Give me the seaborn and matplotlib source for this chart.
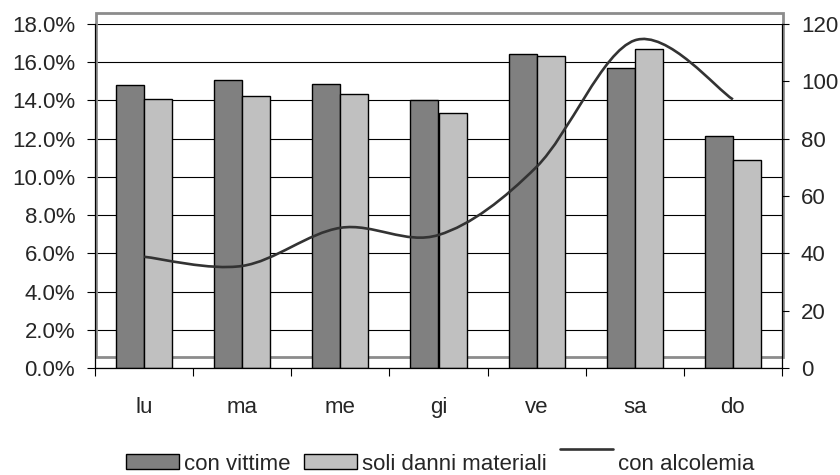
import numpy as np
import pandas as pd
import seaborn as sns
import matplotlib
matplotlib.use("Agg")
import matplotlib.pyplot as plt
from matplotlib.patches import Rectangle, Patch, PathPatch
from matplotlib.lines import Line2D
from matplotlib.path import Path
from matplotlib.ticker import PercentFormatter, FixedLocator
from matplotlib.legend_handler import HandlerLine2D

# Weekday share of road accidents
giorni = ["lu", "ma", "me", "gi", "ve", "sa", "do"]
con_vittime = [14.81, 15.05, 14.84, 14.04, 16.41, 15.71, 12.12]
soli_danni = [14.06, 14.23, 14.32, 13.32, 16.31, 16.68, 10.87]
con_alcolemia = [38.8, 35.6, 48.9, 46.4, 70.2, 114.3, 93.7]

serie_barre = ["con vittime", "soli danni materiali"]
serie_linea = "con alcolemia"

FS = 16

sns.set_style("white")
plt.rcParams["font.family"] = ["Liberation Sans", "DejaVu Sans"]
plt.rcParams["font.size"] = FS

df = pd.DataFrame({
    "giorno": giorni * 2,
    "quota": con_vittime + soli_danni,
    "serie": [serie_barre[0]] * 7 + [serie_barre[1]] * 7,
})

W, H = 840, 475
fig = plt.figure(figsize=(W / 100, H / 100), dpi=100)
ax = fig.add_axes([95 / W, 1 - 368 / H, (782 - 95) / W, (368 - 24) / H])

sns.barplot(data=df, x="giorno", y="quota", hue="serie", order=giorni,
            palette=["#808080", "#C0C0C0"], width=0.572, gap=0,
            edgecolor="black", linewidth=1.0, legend=False, ax=ax)

ax.set_xlim(-0.5, 6.5)
ax.set_ylim(0, 18)
ax.set_xlabel("")
ax.set_ylabel("")

# horizontal grid every 2 %
ax.set_yticks(np.arange(0, 18.1, 2))
ax.yaxis.set_major_formatter(PercentFormatter(xmax=100, decimals=1))
ax.set_axisbelow(True)
ax.grid(axis="y", color="black", linewidth=0.8)
ax.grid(axis="x", visible=False)

# category separators as ticks, labels centred on groups
ax.xaxis.set_major_locator(FixedLocator(np.arange(-0.5, 7, 1)))
ax.xaxis.set_minor_locator(FixedLocator(np.arange(0, 7, 1)))
ax.set_xticklabels([""] * 8)
ax.set_xticklabels(giorni, minor=True)
ax.tick_params(axis="x", which="major", direction="out", length=5.5, width=0.8, color="black", bottom=True)
ax.tick_params(axis="x", which="minor", length=0, pad=21, labelsize=FS)
ax.tick_params(axis="y", direction="out", length=5.8, width=0.8, color="black", pad=8.5, left=True, labelsize=FS)

for side in ["top", "right"]:
    ax.spines[side].set_visible(False)
for side in ["left", "bottom"]:
    ax.spines[side].set_color("black")
    ax.spines[side].set_linewidth(0.9)

# grey plot-area frame
frame = Rectangle((95.5 / W, 1 - 357 / H), (783 - 95.5) / W, (357 - 13) / H,
                  transform=fig.transFigure, fill=False, edgecolor="#8c8c8c",
                  linewidth=2.0, zorder=0.6, clip_on=False)
ax.add_patch(frame)

# secondary axis: smoothed line
ax2 = ax.twinx()
ax2.set_ylim(0, 120)
ax2.set_yticks(np.arange(0, 121, 20))
ax2.tick_params(axis="y", direction="out", length=5, width=0.8, color="black", pad=8.5, labelsize=FS)
for side in ["top", "left", "bottom"]:
    ax2.spines[side].set_visible(False)
ax2.spines["right"].set_color("black")
ax2.spines["right"].set_linewidth(0.9)

xs = np.arange(len(giorni), dtype=float)
ys = np.asarray(con_alcolemia, dtype=float)
pts = np.column_stack([xs, ys])
verts = [pts[0]]
codes = [Path.MOVETO]
for i in range(len(pts) - 1):
    p0 = pts[max(i - 1, 0)]
    p1 = pts[i]
    p2 = pts[i + 1]
    p3 = pts[min(i + 2, len(pts) - 1)]
    c1 = p1 + (p2 - p0) / 6.0
    c2 = p2 - (p3 - p1) / 6.0
    verts += [c1, c2, p2]
    codes += [Path.CURVE4] * 3
ax2.add_patch(PathPatch(Path(verts, codes), fill=False, edgecolor="#333333",
                        linewidth=1.9, capstyle="butt"))


class RaisedLineHandler(HandlerLine2D):
    def create_artists(self, legend, orig_handle, xdescent, ydescent,
                       width, height, fontsize, trans):
        arts = super().create_artists(legend, orig_handle, xdescent, ydescent,
                                      width, height, fontsize, trans)
        for a in arts:
            a.set_ydata(np.asarray(a.get_ydata()) + 9.5)
        return arts


handles = [
    Patch(facecolor="#808080", edgecolor="black", linewidth=1.0),
    Patch(facecolor="#C0C0C0", edgecolor="black", linewidth=1.0),
    Line2D([], [], color="#333333", linewidth=1.9),
]
fig.legend(handles, serie_barre + [serie_linea], loc="center",
           bbox_to_anchor=(440 / W, 1 - 464 / H), ncol=3, frameon=False,
           fontsize=FS, handlelength=2.4, handleheight=0.62,
           handletextpad=0.22, columnspacing=0.6, borderpad=0, borderaxespad=0,
           handler_map={Line2D: RaisedLineHandler()})

fig.savefig("out.png", dpi=100)
